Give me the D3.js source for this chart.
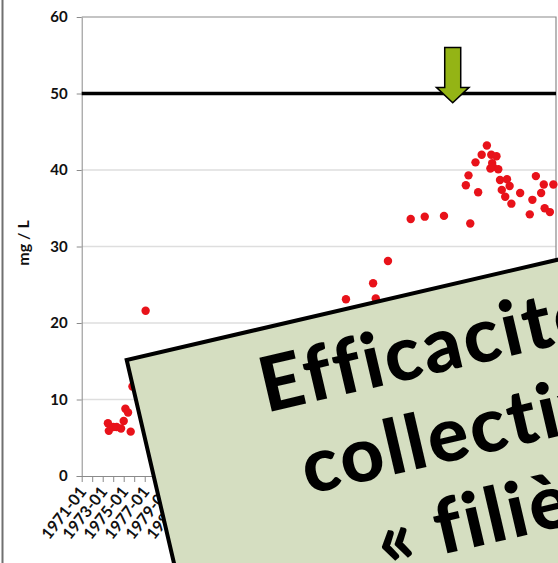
<!DOCTYPE html>
<html>
<head>
<meta charset="utf-8">
<script src="https://cdn.jsdelivr.net/npm/d3@7"></script>
<style>
body{margin:0;background:#fff;}
svg text{font-family:Lato,"DejaVu Sans",sans-serif;font-weight:bold;font-variant-ligatures:none;font-feature-settings:"liga" 0,"clig" 0;}
</style>
</head>
<body>
<svg id="chart" width="558" height="563"></svg>
<script>
// nitrates (mg/L) - dates de prélèvement et valeurs lues
var dates=["1973-07","1973-08","1974-01","1974-05","1974-10","1975-01","1975-03","1975-06","1975-09","1975-11",
           "1977-02","1996-03","1998-10","1999-01","2000-03","2002-05","2003-09","2005-07","2007-08","2007-11",
           "2008-01","2008-07","2008-10","2009-02","2009-08","2009-12","2010-01","2010-02","2010-03","2010-07",
           "2010-09","2010-11","2011-01","2011-05","2011-07","2011-10","2011-12","2012-10","2013-09","2013-12",
           "2014-04","2014-10","2015-01","2015-02","2015-08","2015-12"];
var values=[6.9,5.9,6.4,6.4,6.2,7.2,8.8,8.3,5.8,11.7,
            21.6,23.1,25.2,23.2,28.1,33.6,33.9,34.0,38.0,39.3,
            33.0,41.0,37.1,42.0,43.2,40.2,42.0,40.9,40.4,41.8,
            40.1,38.7,37.4,36.5,38.8,37.9,35.6,37.0,34.2,36.1,
            39.2,37.0,38.1,35.0,34.5,38.1];
var yTicks=[0,10,20,30,40,50,60];
var xStart="1971-01", xEnd="2016-03";
var limite=50;               // norme de potabilité
var flecheDate="2006-05";    // flèche verte
var flecheHaut=56, flecheBaseTete=50.8, flechePointe=48.8;
var encadreLignes=["Efficacité de la","collective","« filière »"];

var parse=d3.timeParse("%Y-%m");
var fmt=d3.timeFormat("%Y-%m");
var svg=d3.select("#chart");

var x=d3.scaleTime().domain([parse(xStart),parse(xEnd)]).range([81.7,556]);
var y=d3.scaleLinear().domain([0,60]).range([476,17]);

// cadre gauche de la diapo
svg.append("line").attr("x1",2.5).attr("x2",2.5).attr("y1",0).attr("y2",563)
   .style("stroke","#707070").style("stroke-width",2);

// grille
svg.append("g").selectAll("line").data(yTicks.filter(function(d){return d>0&&d<60&&d!=limite;}))
   .enter().append("line")
   .attr("x1",x.range()[0]).attr("x2",x.range()[1])
   .attr("y1",function(d){return y(d);}).attr("y2",function(d){return y(d);})
   .style("stroke","#dedede").style("stroke-width",1.5);

// bord du tracé
svg.append("path")
   .attr("d","M"+x.range()[0]+","+y(60)+"H"+x.range()[1]+"V"+y(0))
   .style("fill","none").style("stroke","#8a8a8a").style("stroke-width",1.2);

// axe Y
var yAxis=svg.append("g").attr("transform","translate("+x.range()[0]+",0)")
   .call(d3.axisLeft(y).tickValues(yTicks).tickSize(5).tickSizeOuter(0).tickPadding(9));
yAxis.select(".domain").style("stroke","#8a8a8a");
yAxis.selectAll(".tick line").style("stroke","#8a8a8a");
yAxis.selectAll("text").style("font-size","15px").style("fill","#111");

// axe X
var xAxis=svg.append("g").attr("transform","translate(0,"+y(0)+")")
   .call(d3.axisBottom(x).ticks(d3.timeYear.every(1)).tickSize(6).tickSizeOuter(0)
      .tickFormat(function(d){return (d.getFullYear()-1971)%2==0?fmt(d):"";}));
xAxis.select(".domain").attr("d","M"+(x.range()[0]-5)+",0.5H"+x.range()[1]).style("stroke","#8a8a8a");
xAxis.selectAll(".tick line").style("stroke","#8a8a8a");
xAxis.selectAll("text").attr("x",0).attr("y",0).attr("dy",0)
   .attr("transform","translate(5,16) rotate(-52)")
   .style("text-anchor","end").style("font-size","16px").style("fill","#111");

// titre axe Y
svg.append("text").attr("transform","translate(29,243) rotate(-90)")
   .attr("text-anchor","middle").style("font-size","16px").style("fill","#111").text("mg / L");

// ligne 50 mg/L
svg.append("line").attr("x1",x.range()[0]).attr("x2",x.range()[1])
   .attr("y1",y(limite)).attr("y2",y(limite))
   .style("stroke","#000").style("stroke-width",3.5);

// points
svg.append("g").selectAll("circle").data(dates).enter().append("circle")
   .attr("cx",function(d){return x(parse(d));})
   .attr("cy",function(d,i){return y(values[i]);})
   .attr("r",4.2).style("fill","#e8121a");

// flèche verte
var fx=x(parse(flecheDate));
svg.append("path")
   .attr("d","M"+(fx-8)+","+y(flecheHaut)+"H"+(fx+8)+"V"+y(flecheBaseTete)+"H"+(fx+16.3)+
             "L"+fx+","+y(flechePointe)+"L"+(fx-16.3)+","+y(flecheBaseTete)+"H"+(fx-8)+"Z")
   .style("fill","#94b415").style("stroke","#000").style("stroke-width",1.5);

// encadré incliné
var box=svg.append("g").attr("transform","translate(126.7,360) rotate(-13.1)");
box.append("rect").attr("x",0).attr("y",0).attr("width",700).attr("height",500)
   .style("fill","#d5dec1").style("stroke","#000").style("stroke-width",4);
var debutsU=[124,146,203];
box.selectAll("text.ligne").data(encadreLignes).enter().append("text").attr("class","ligne")
   .attr("x",function(d,i){return debutsU[i];})
   .attr("y",function(d,i){return 83+89*i;})
   .style("font-size","76px").style("font-weight","900").style("letter-spacing","2.5px").style("fill","#000")
   .text(function(d){return d;});
</script>
</body>
</html>
